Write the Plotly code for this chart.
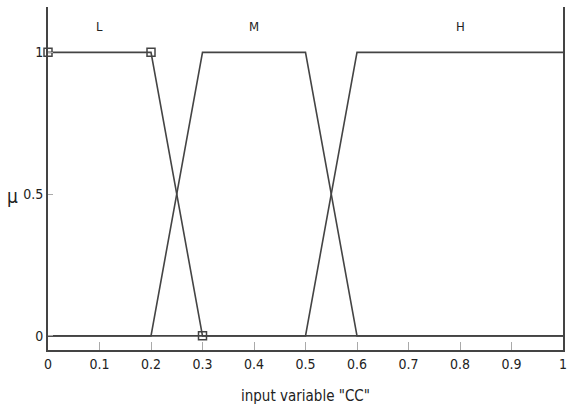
import plotly.graph_objects as go

# Membership functions of input variable "CC"
mf_names = ["L", "M", "H"]
mf_x = [
    [0.0, 0.2, 0.3, 1.0],
    [0.0, 0.2, 0.3, 0.5, 0.6, 1.0],
    [0.0, 0.5, 0.6, 1.0],
]
mf_y = [
    [1, 1, 0, 0],
    [0, 0, 1, 1, 0, 0],
    [0, 0, 1, 1],
]
label_x = [0.1, 0.4, 0.8]
label_y = 1.09

# vertices of the selected function (L)
sel_x = [0.0, 0.2, 0.3]
sel_y = [1, 1, 0]

x_ticks = [0, 0.1, 0.2, 0.3, 0.4, 0.5, 0.6, 0.7, 0.8, 0.9, 1]
x_tick_text = ["0", "0.1", "0.2", "0.3", "0.4", "0.5", "0.6", "0.7", "0.8", "0.9", "1"]
y_ticks = [0, 0.5, 1]
y_tick_text = ["0", "0.5", "1"]

line_col = "#444444"
font_fam = "DejaVu Sans Condensed, Liberation Sans Narrow, Arial, sans-serif"

fig = go.Figure()
for xs, ys in zip(mf_x, mf_y):
    fig.add_trace(go.Scatter(x=xs, y=ys, mode="lines",
                             line=dict(color=line_col, width=1.6),
                             showlegend=False, hoverinfo="skip"))
fig.add_trace(go.Scatter(x=sel_x, y=sel_y, mode="markers",
                         marker=dict(symbol="square-open", size=8,
                                     color=line_col, line=dict(width=1.5)),
                         showlegend=False, cliponaxis=False))

for name, lx in zip(mf_names, label_x):
    fig.add_annotation(x=lx, y=label_y, text=name, showarrow=False,
                       font=dict(size=13, color="#222222", family=font_fam))

# y-axis symbol, upright
fig.add_annotation(xref="paper", yref="paper", x=-0.068, y=0.45,
                   xanchor="center", yanchor="middle", text="μ",
                   showarrow=False,
                   font=dict(size=19, color="#222222", family=font_fam))

fig.update_layout(
    width=568, height=418,
    margin=dict(l=48, r=5, t=7, b=68, autoexpand=False),
    paper_bgcolor="white", plot_bgcolor="white",
    font=dict(family=font_fam, size=14, color="#222222"),
    xaxis=dict(range=[0, 1], tickvals=x_ticks, ticktext=x_tick_text,
               showgrid=False, zeroline=False, showline=True,
               linecolor=line_col, linewidth=2, ticks="inside",
               ticklen=8, tickcolor="#aaaaaa", tickwidth=1,
               automargin=False,
               title=dict(text='input variable "CC"', standoff=20,
                          font=dict(size=15))),
    yaxis=dict(range=[-0.05, 1.16], tickvals=y_ticks, ticktext=y_tick_text,
               showgrid=False, zeroline=False, showline=True, mirror=True,
               linecolor=line_col, linewidth=2, ticks="inside",
               ticklen=5, tickcolor="#aaaaaa", tickwidth=1,
               automargin=False),
)

fig.write_html("out.html")
